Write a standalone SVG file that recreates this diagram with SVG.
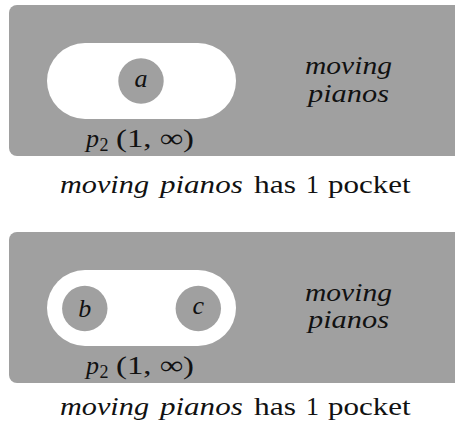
<svg xmlns="http://www.w3.org/2000/svg" width="455" height="427" viewBox="0 0 455 427" font-family="Liberation Serif, Times New Roman, serif">
<style>
.panel{fill:#a0a0a0}
.pill{fill:#ffffff}
.dot{fill:#a0a0a0}
text{fill:#111;font-size:26px}
.it{font-style:italic}
.sub{font-size:18px}
</style>
<rect width="455" height="427" fill="#ffffff"/>
<g id="connectors"/>
<g id="panel1">
<rect class="panel" x="9" y="5" width="470" height="151" rx="8"/>
<g id="pocket1">
<rect class="pill" x="47" y="43" width="189" height="76" rx="38"/>
<text x="86" y="147.3" class="it">p</text>
<text x="99.5" y="151" class="sub">2</text>
<text x="116" y="147.3" textLength="78" lengthAdjust="spacingAndGlyphs">(1, ∞)</text>
</g>
<g id="node-a">
<circle class="dot" cx="141" cy="81" r="22.7"/>
<text x="141" y="87.3" class="it" text-anchor="middle">a</text>
</g>
<g id="label1">
<text x="305" y="74" class="it" textLength="87" lengthAdjust="spacingAndGlyphs">moving</text>
<text x="308" y="101.5" class="it" textLength="81" lengthAdjust="spacingAndGlyphs">pianos</text>
</g>
</g>
<g id="caption1">
<text x="60" y="192.7" class="it" textLength="89" lengthAdjust="spacingAndGlyphs">moving</text>
<text x="160" y="192.7" class="it" textLength="82.7" lengthAdjust="spacingAndGlyphs">pianos</text>
<text x="254" y="192.7" textLength="42" lengthAdjust="spacingAndGlyphs">has</text>
<text x="306" y="192.7">1</text>
<text x="328" y="192.7" textLength="82.7" lengthAdjust="spacingAndGlyphs">pocket</text>
</g>
<g id="panel2">
<rect class="panel" x="9" y="232" width="470" height="151" rx="8"/>
<g id="pocket2">
<rect class="pill" x="47" y="270" width="189" height="76" rx="38"/>
<text x="86" y="374.3" class="it">p</text>
<text x="99.5" y="378" class="sub">2</text>
<text x="116" y="374.3" textLength="78" lengthAdjust="spacingAndGlyphs">(1, ∞)</text>
</g>
<g id="node-b">
<circle class="dot" cx="84.8" cy="308.5" r="22.7"/>
<text x="84.8" y="317" class="it" text-anchor="middle">b</text>
</g>
<g id="node-c">
<circle class="dot" cx="198.3" cy="308.5" r="22.7"/>
<text x="198.3" y="314" class="it" text-anchor="middle">c</text>
</g>
<g id="label2">
<text x="305" y="300.5" class="it" textLength="87" lengthAdjust="spacingAndGlyphs">moving</text>
<text x="308" y="328" class="it" textLength="81" lengthAdjust="spacingAndGlyphs">pianos</text>
</g>
</g>
<g id="caption2">
<text x="60" y="414.7" class="it" textLength="89" lengthAdjust="spacingAndGlyphs">moving</text>
<text x="160" y="414.7" class="it" textLength="82.7" lengthAdjust="spacingAndGlyphs">pianos</text>
<text x="254" y="414.7" textLength="42" lengthAdjust="spacingAndGlyphs">has</text>
<text x="306" y="414.7">1</text>
<text x="328" y="414.7" textLength="82.7" lengthAdjust="spacingAndGlyphs">pocket</text>
</g>
</svg>
